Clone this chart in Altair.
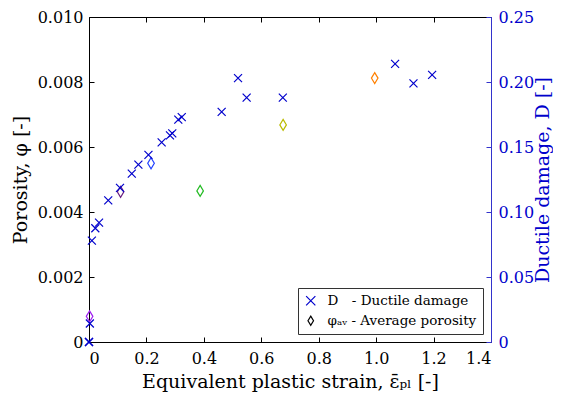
import altair as alt
import pandas as pd

# Ductile damage D (right axis) vs equivalent plastic strain
d_strain = [0.0, 0.0, 0.003, 0.010, 0.022, 0.035, 0.067, 0.108, 0.149, 0.172, 0.207,
            0.253, 0.282, 0.290, 0.311, 0.323, 0.462, 0.519, 0.549, 0.675, 1.066, 1.130, 1.195]
d_value = [0.0, 0.0, 0.0142, 0.078, 0.0875, 0.0918, 0.109, 0.1185, 0.1295, 0.1365, 0.144,
           0.1535, 0.159, 0.1605, 0.171, 0.173, 0.177, 0.203, 0.188, 0.188, 0.214, 0.199, 0.2055]

# Average porosity (left axis)
p_strain = [0.002, 0.110, 0.216, 0.387, 0.676, 0.995]
p_value = [0.00079, 0.00462, 0.00550, 0.00465, 0.00668, 0.00812]
p_color = ["#a020f0", "#6a2080", "#2040ff", "#22bb22", "#bbbb00", "#ff8000"]

series_domain = ["D", "phi"]
series_labels = ["D\u2002\u2002- Ductile damage", "φₐᵥ - Average porosity"]

dfd = pd.DataFrame({"x": d_strain, "y": d_value, "s": "D"})
dfp = pd.DataFrame({"x": p_strain, "y": p_value, "s": "phi", "c": p_color})

FONT = "DejaVu Serif"
BLUE = "#0000cc"
CROSS = "M-1,-1L1,1M-1,1L1,-1"
DIAM = "M0,-1L0.6,0L0,1L-0.6,0Z"

inward = {"expr": "-5"}

color_scale = alt.Scale(domain=series_domain, range=[BLUE, "black"])
shape_scale = alt.Scale(domain=series_domain, range=[CROSS, DIAM])
label_expr = "datum.value == 'D' ? '%s' : '%s'" % (series_labels[0], series_labels[1])

legend = alt.Legend(title=None, orient="bottom-right", offset=8, labelExpr=label_expr,
                    labelFont=FONT, labelFontSize=13.5, labelColor="black",
                    strokeColor="#333333", fillColor="white", padding=6,
                    rowPadding=5, symbolSize=85, symbolStrokeWidth=1.2, labelOffset=10)

common = dict(labelFont=FONT, labelFontSize=16, titleFont=FONT, titleFontSize=19,
              titleFontWeight="normal", grid=False, tickSize=inward)

x_vals = [0, 0.2, 0.4, 0.6, 0.8, 1.0, 1.2, 1.4]

x_bottom = alt.X("x:Q", scale=alt.Scale(domain=[0, 1.4], nice=False),
                 axis=alt.Axis(title="Equivalent plastic strain, ε̄ₚₗ [-]",
                               values=x_vals,
                               labelExpr="datum.value == 0 ? '0' : format(datum.value, '.1f')",
                               labelPadding=13, labelColor="black", titleColor="black",
                               domainColor="black", tickColor="black",
                               titlePadding=6, **common))

x_top = alt.X("x:Q", scale=alt.Scale(domain=[0, 1.4], nice=False),
              axis=alt.Axis(orient="top", title=None, labels=False, values=x_vals,
                            tickSize=inward, grid=False,
                            domainColor="black", tickColor="black"))

porosity = alt.Chart(dfp).mark_point(filled=False, strokeWidth=1.2, size=121, opacity=1).encode(
    x=x_bottom,
    y=alt.Y("y:Q", scale=alt.Scale(domain=[0, 0.01], nice=False),
            axis=alt.Axis(title="Porosity, φ [-]",
                          values=[0, 0.002, 0.004, 0.006, 0.008, 0.01],
                          labelExpr="datum.value == 0 ? '0' : format(datum.value, '.3f')",
                          labelPadding=11, labelColor="black", titleColor="black",
                          domainColor="black", tickColor="black", titlePadding=7, **common)),
    shape=alt.Shape("s:N", scale=shape_scale, legend=legend),
    stroke=alt.Stroke("c:N", scale=None),
)

damage = alt.Chart(dfd).mark_point(filled=False, strokeWidth=1.2, size=64, opacity=1).encode(
    x=x_top,
    y=alt.Y("y:Q", scale=alt.Scale(domain=[0, 0.25], nice=False),
            axis=alt.Axis(orient="right", title="Ductile damage, D [-]",
                          values=[0, 0.05, 0.1, 0.15, 0.2, 0.25],
                          labelExpr="datum.value == 0 ? '0' : format(datum.value, '.2f')",
                          labelPadding=12, titleAngle=270, titlePadding=19,
                          domainColor="#3333cc", tickColor="#3333cc",
                          labelColor=BLUE, titleColor=BLUE, **common)),
    color=alt.Color("s:N", scale=color_scale, legend=legend),
    shape=alt.Shape("s:N", scale=shape_scale, legend=legend),
)

chart = alt.layer(porosity, damage).resolve_scale(
    x="independent", y="independent"
).properties(
    width=402, height=325,
    autosize=alt.AutoSizeParams(type="none"),
    padding={"left": 81, "top": 9, "right": 62, "bottom": 54},
).configure_view(stroke=None).configure_axis(
    domainWidth=1, tickWidth=1,
).configure_legend(labelLimit=300)

chart.save("out.html", embed_options={"renderer": "svg", "actions": False})
